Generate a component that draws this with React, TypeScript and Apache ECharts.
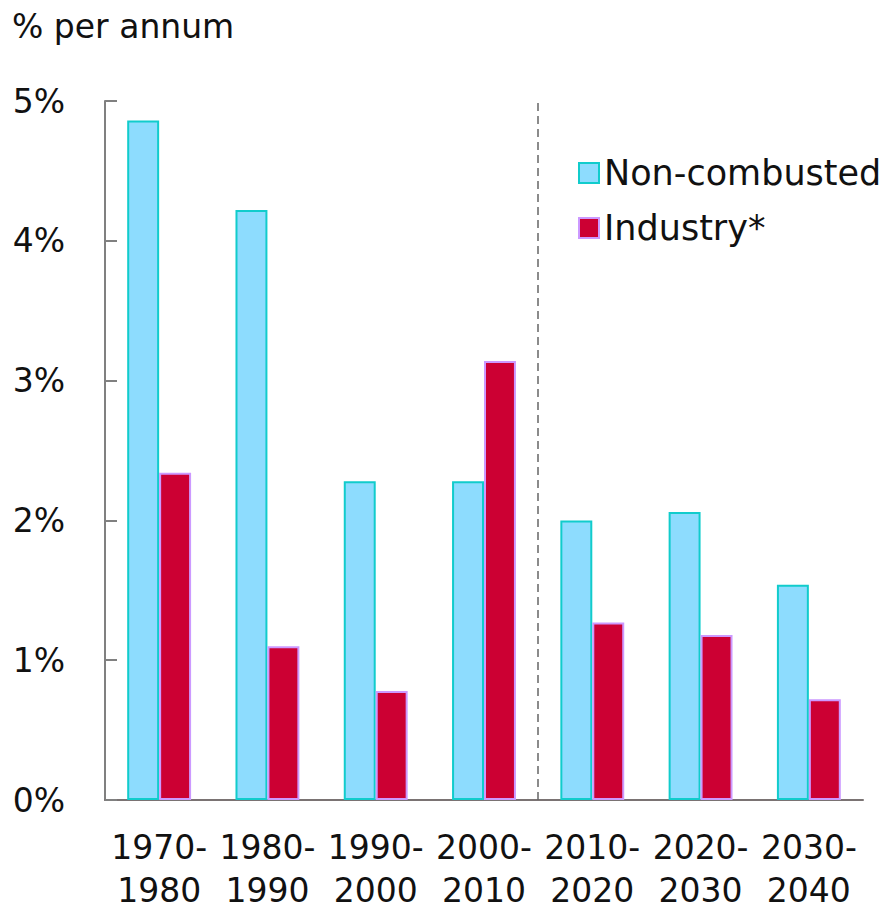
import React, { useEffect, useRef } from "react";
import * as echarts from "echarts";

const categories = ["1970-\n1980", "1980-\n1990", "1990-\n2000", "2000-\n2010", "2010-\n2020", "2020-\n2030", "2030-\n2040"];
const nonCombusted = [4.86, 4.22, 2.28, 2.28, 2.0, 2.06, 1.54];
const industry = [2.34, 1.1, 0.78, 3.14, 1.27, 1.18, 0.72];
const yTicks = [0, 1, 2, 3, 4, 5];
const dividerPosition = [4];

const FONT = "'DejaVu Sans', sans-serif";

export default function App() {
  const ref = useRef<HTMLDivElement>(null);
  useEffect(() => {
    const chart = echarts.init(ref.current!, null, { renderer: "svg" });
    chart.setOption({
      animation: false,
      textStyle: { fontFamily: FONT },
      title: {
        text: "% per annum",
        left: 12,
        top: 10,
        padding: 0,
        textStyle: { fontSize: 33, fontWeight: "normal", color: "#111", fontFamily: FONT, lineHeight: 32 },
      },
      legend: {
        left: 578,
        top: 155,
        padding: 0,
        orient: "vertical",
        icon: "rect",
        itemWidth: 20,
        itemHeight: 20,
        itemGap: 19,
        textStyle: { fontSize: 35, color: "#111", lineHeight: 36, fontFamily: FONT },
        data: ["Non-combusted", "Industry*"],
      },
      grid: { left: 105, right: 32, top: 101, bottom: 109, containLabel: false, outerBoundsMode: "none" },
      xAxis: [
        {
          type: "category",
          data: categories,
          axisLine: { lineStyle: { color: "#7a7373", width: 2 } },
          axisTick: { show: false },
          axisLabel: {
            interval: 0,
            margin: 19,
            color: "#111",
            fontFamily: FONT,
            formatter: (v: string) => {
              const [a, b] = v.split("\n");
              return "{a|" + a + "}\n{b|" + b + "}";
            },
            rich: {
              a: { fontSize: 33, lineHeight: 56, color: "#111", fontFamily: FONT },
              b: { fontSize: 33, lineHeight: 30, color: "#111", fontFamily: FONT },
            },
          },
          splitLine: { show: false },
        },
        {
          type: "value",
          min: 0,
          max: 7,
          show: false,
        },
      ],
      yAxis: {
        type: "value",
        min: 0,
        max: 5,
        interval: 1,
        axisLine: { show: true, lineStyle: { color: "#808080", width: 2 } },
        axisTick: { show: true, inside: true, length: 12, lineStyle: { color: "#808080", width: 2 } },
        splitLine: { show: false },
        axisLabel: {
          fontSize: 33,
          color: "#111",
          margin: 40,
          fontFamily: FONT,
          formatter: (v: number) => (yTicks.includes(v) ? v + "%" : ""),
        },
      },
      series: [
        {
          name: "Non-combusted",
          type: "bar",
          data: nonCombusted,
          barGap: "0%",
          barCategoryGap: "41%",
          itemStyle: { color: "#8ddcfe", borderColor: "#11cccc", borderWidth: 2 },
        },
        {
          name: "Industry*",
          type: "bar",
          data: industry,
          barGap: "0%",
          barCategoryGap: "41%",
          itemStyle: { color: "#cc0033", borderColor: "#cc99ff", borderWidth: 2 },
        },
        {
          name: "divider",
          type: "line",
          xAxisIndex: 1,
          data: [],
          silent: true,
          markLine: {
            silent: true,
            symbol: "none",
            label: { show: false },
            lineStyle: { color: "#666", type: [8, 5], width: 1.5 },
            data: dividerPosition.map((x) => ({ xAxis: x })),
          },
        },
      ],
    });
    return () => chart.dispose();
  }, []);
  return (
    <div
      ref={ref}
      style={{ position: "absolute", left: 0, top: 0, width: 895, height: 909, background: "#fff" }}
    />
  );
}
